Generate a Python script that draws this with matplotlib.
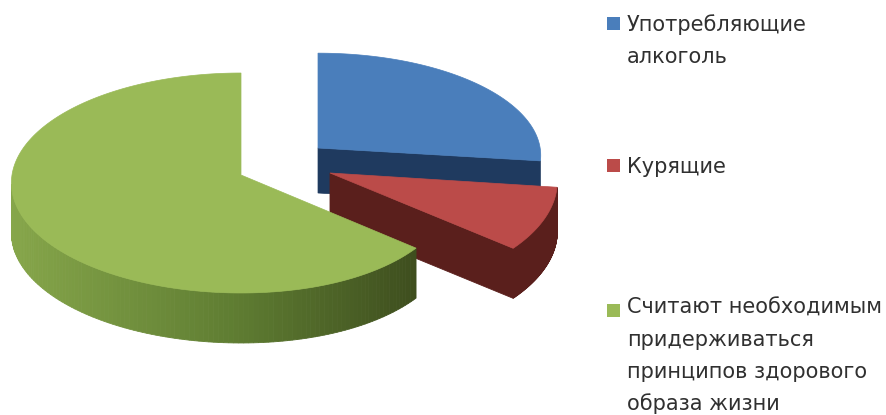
import numpy as np
import matplotlib
matplotlib.use("Agg")
import matplotlib.pyplot as plt
from matplotlib.patches import Polygon, Rectangle
from matplotlib.colors import to_rgb

# data
categories = ["Употребляющие\nалкоголь", "Курящие",
              "Считают необходимым\nпридерживаться\nпринципов здорового\nобраза жизни"]
values = [27, 9, 64]

# style / layout
top_colors = ["#4a7ebb", "#bb4b49", "#9aba57"]
side_colors = ["#1f3a5f", "#5a1f1c", "#5f7d32"]
green_wall = ["#86a64a", "#5f7d32", "#3e4e1e"]
apex = [(318, 148), (330, 173), (241, 175)]
scale = [(0.97, 0.93), (0.99, 1.03), (1.0, 1.0)]
right_squeeze = [0.0, 0.0, 0.07]
RX, RY, PERSP, DEPTH = 229.0, 109.4, 0.0727, 50.0
legend_marker_y = [23.5, 166, 310]
legend_text_y = [25, 167, 308]
LINE_STEP = 32


def project(t_deg, idx):
    t = np.radians(t_deg)
    u, v = np.cos(t), -np.sin(t)
    w = 1 - PERSP * v
    x0, y0 = apex[idx]
    sx, sy = scale[idx]
    sx = sx * (1 - right_squeeze[idx] * np.clip(u, 0, None))
    return x0 + sx * RX * u / w, y0 + sy * RY * v / w


fig = plt.figure(figsize=(8.87, 4.15), dpi=100)
ax = fig.add_axes([0, 0, 1, 1])
ax.set_xlim(0, 887)
ax.set_ylim(415, 0)
ax.axis("off")

angles = 90 - np.cumsum([0] + values) * 3.6  # clockwise from the top


def arc(idx):
    start, end = angles[idx], angles[idx + 1]
    t = np.linspace(start, end, 200)
    return t, *project(t, idx)


def strip(x1, y1, x2, y2, color, z):
    ax.add_patch(Polygon([(x1, y1), (x2, y2), (x2, y2 + DEPTH), (x1, y1 + DEPTH)],
                         closed=True, fc=color, ec=color, lw=0.6, zorder=z))


# blue slice
t, x, y = arc(0)
ax_apex = apex[0]
ax.add_patch(Polygon([ax_apex, (x[-1], y[-1]), (x[-1], y[-1] + DEPTH - 5),
                      (ax_apex[0], ax_apex[1] + DEPTH - 5)],
                     closed=True, fc=side_colors[0], ec=side_colors[0], lw=0.5, zorder=1))
ax.add_patch(Polygon(np.r_[[ax_apex], np.c_[x, y]], closed=True,
                     fc=top_colors[0], ec=top_colors[0], lw=0.5, zorder=2))

# red slice
t, x, y = arc(1)
a = apex[1]
for i in range(len(t) - 1):
    strip(x[i], y[i], x[i + 1], y[i + 1], side_colors[1], 3)
strip(a[0], a[1], x[-1], y[-1], side_colors[1], 3)
ax.add_patch(Polygon(np.r_[[a], np.c_[x, y]], closed=True,
                     fc=top_colors[1], ec=top_colors[1], lw=0.5, zorder=4))

# green slice
t, x, y = arc(2)
a = apex[2]
vis = -np.sin(np.radians(t)) >= PERSP
xs, ys = x[vis], y[vis]
xmin, xmax = xs.min(), xs.max()
cols = np.array([to_rgb(c) for c in green_wall])
for i in range(len(xs) - 1):
    f = ((xs[i] + xs[i + 1]) / 2 - xmin) / (xmax - xmin)
    c = [np.interp(f, [0, 0.55, 1], cols[:, k]) for k in range(3)]
    strip(xs[i], ys[i], xs[i + 1], ys[i + 1], c, 5)
ax.add_patch(Polygon(np.r_[[a], np.c_[x, y]], closed=True,
                     fc=top_colors[2], ec=top_colors[2], lw=0.5, zorder=6))

# legend
for name, col, my, ty in zip(categories, top_colors, legend_marker_y, legend_text_y):
    ax.add_patch(Rectangle((607, my - 6.5), 13, 13, fc=col, ec="none", zorder=7))
    for j, line in enumerate(name.split("\n")):
        ax.text(627, ty + j * LINE_STEP, line, fontsize=15, family="DejaVu Sans",
                color="#303030", va="center", ha="left", zorder=7)

fig.savefig("out.png", dpi=100, facecolor="white")
